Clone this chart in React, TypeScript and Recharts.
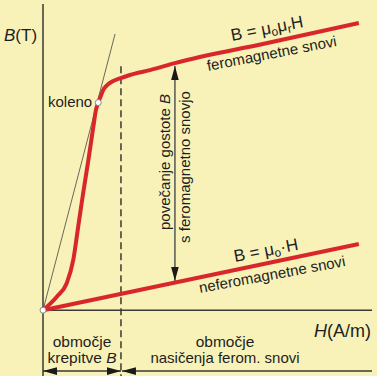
import React from 'react';
import { ComposedChart, Line, XAxis, YAxis, ReferenceLine, ReferenceDot } from 'recharts';

// magnetization curve of a ferromagnetic material (H, B) in arbitrary units
const feroH = [0, 4.2, 7.2, 9.2, 10.7, 12.2, 13.8, 15.3, 16.1, 16.8, 17.5, 18.3, 19.5, 20.9, 23.4, 26.4, 32.5, 40.1, 67.5, 96.0];
const feroB = [0, 4.4, 8.8, 16.4, 27.3, 38.2, 49.1, 59.9, 65.4, 67.8, 69.8, 71.9, 73.5, 74.6, 75.7, 76.8, 78.4, 80.7, 87.1, 93.8];

// non-ferromagnetic material: straight line B = mu0 * H
const neferoH = [0, 96.0];
const neferoB = [0, 21.6];

// thin tangent through the origin
const tangentH = [0, 21.9];
const tangentB = [0, 90.2];

const kneeH = 16.8;
const kneeB = 67.8;
const boundaryH = 23.7; // end of the "krepitve" region
const arrowH = 40.1;
const arrowTop = 79.75;
const arrowBottom = 9.5;
const bottomRow = -19.9;

const RED = '#d8262a';
const INK = '#3a3a30';
const FONT = '"Liberation Sans", Arial, sans-serif';

const toRows = (xs: number[], ys: number[]) => xs.map((h, i) => ({ h, b: ys[i] }));

const ferroData = toRows(feroH, feroB);
const neferoData = toRows(neferoH, neferoB);
const tangentData = toRows(tangentH, tangentB);

const head = (x: number, y: number, dx: number, dy: number, len = 14, w = 3.8) => {
    const l = Math.hypot(dx, dy) || 1;
    const ux = dx / l, uy = dy / l;
    const bx = x - ux * len, by = y - uy * len;
    return `${x},${y} ${bx - uy * w},${by + ux * w} ${bx + uy * w},${by - ux * w}`;
};

const arrowShape = (heads: 'start' | 'end' | 'both', color: string) => (p: any) => {
    const { x1, y1, x2, y2 } = p;
    return (
        <g>
            <line x1={x1} y1={y1} x2={x2} y2={y2} stroke={color} strokeWidth={1.5} />
            {(heads === 'start' || heads === 'both') && (
                <polygon points={head(x1, y1, x1 - x2, y1 - y2)} fill="#1a1a1a" />
            )}
            {(heads === 'end' || heads === 'both') && (
                <polygon points={head(x2, y2, x2 - x1, y2 - y1)} fill="#1a1a1a" />
            )}
        </g>
    );
};

const Annotations = () => (
    <g fontFamily={FONT} fill="#1e1e1e">
        <text x={4} y={41} fontSize={17}>
            <tspan fontStyle="italic">B</tspan>(T)
        </text>
        <text x={371} y={337} fontSize={18} textAnchor="end">
            <tspan fontStyle="italic">H</tspan>(A/m)
        </text>
        <text x={48} y={107} fontSize={15}>koleno</text>

        <text x={232} y={41} fontSize={17} transform="rotate(-11 232 41)">
            B = μ<tspan fontSize={12} dy={3}>o</tspan>
            <tspan dy={-3}>μ</tspan>
            <tspan fontSize={12} dy={3}>r</tspan>
            <tspan dy={-3}>H</tspan>
        </text>
        <text x={208} y={71} fontSize={15} transform="rotate(-11 208 71)">feromagnetne snovi</text>

        <text x={235} y={262} fontSize={17} transform="rotate(-11 235 262)">
            B = μ<tspan fontSize={12} dy={3}>o</tspan>
            <tspan dy={-3}>·H</tspan>
        </text>
        <text x={200} y={293} fontSize={15} transform="rotate(-10.5 200 293)">neferomagnetne snovi</text>

        <text transform="translate(170 162) rotate(-90)" fontSize={15} textAnchor="middle">
            povečanje gostote <tspan fontStyle="italic">B</tspan>
        </text>
        <text transform="translate(190 167) rotate(-90)" fontSize={15} textAnchor="middle">
            s feromagnetno snovjo
        </text>

        <text x={82} y={347} fontSize={15.5} textAnchor="middle">območje</text>
        <text x={82} y={363} fontSize={15.5} textAnchor="middle">
            krepitve <tspan fontStyle="italic">B</tspan>
        </text>
        <text x={225} y={347} fontSize={15.5} textAnchor="middle">območje</text>
        <text x={225} y={363} fontSize={15} textAnchor="middle">nasičenja ferom. snovi</text>
    </g>
);

export default function App() {
    return (
        <div style={{ position: 'absolute', left: 0, top: 0, width: 377, height: 376, background: '#f8f2b9' }}>
            <ComposedChart width={377} height={376} margin={{ top: 4, right: 5, bottom: 0, left: 43 }}>
                <XAxis type="number" dataKey="h" domain={[0, 100]} hide />
                <YAxis type="number" dataKey="b" domain={[-21.5, 100]} hide />

                {/* axes */}
                <ReferenceLine segment={[{ x: 0, y: 100 }, { x: 0, y: -21.5 }]} stroke={INK} strokeWidth={1.5} />
                <ReferenceLine segment={[{ x: 0, y: 0 }, { x: 100, y: 0 }]} stroke={INK} strokeWidth={1.5} />

                {/* region boundary */}
                <ReferenceLine
                    segment={[{ x: boundaryH, y: 79.7 }, { x: boundaryH, y: -21.5 }]}
                    stroke={INK}
                    strokeWidth={1.5}
                    strokeDasharray="7 4"
                />

                {/* region arrows */}
                <ReferenceLine
                    segment={[{ x: 0, y: bottomRow }, { x: boundaryH, y: bottomRow }]}
                    shape={arrowShape('both', INK)}
                />
                <ReferenceLine
                    segment={[{ x: 24.0, y: bottomRow }, { x: 100, y: bottomRow }]}
                    shape={arrowShape('start', INK)}
                />

                {/* increase of B arrow */}
                <ReferenceLine
                    segment={[{ x: arrowH, y: arrowTop }, { x: arrowH, y: arrowBottom }]}
                    shape={arrowShape('both', '#555')}
                />

                <Line
                    data={tangentData}
                    dataKey="b"
                    type="linear"
                    stroke="#444"
                    strokeWidth={0.8}
                    dot={false}
                    isAnimationActive={false}
                />
                <Line
                    data={neferoData}
                    dataKey="b"
                    type="linear"
                    stroke={RED}
                    strokeWidth={4}
                    dot={false}
                    isAnimationActive={false}
                />
                <Line
                    data={ferroData}
                    dataKey="b"
                    type="monotone"
                    stroke={RED}
                    strokeWidth={4}
                    dot={false}
                    isAnimationActive={false}
                />

                <ReferenceDot x={0} y={0} r={3} fill="#fff" stroke="#888" strokeWidth={1} />
                <ReferenceDot x={kneeH} y={kneeB} r={3} fill="#fff" stroke="#888" strokeWidth={1} />

                <Annotations />
            </ComposedChart>
        </div>
    );
}
